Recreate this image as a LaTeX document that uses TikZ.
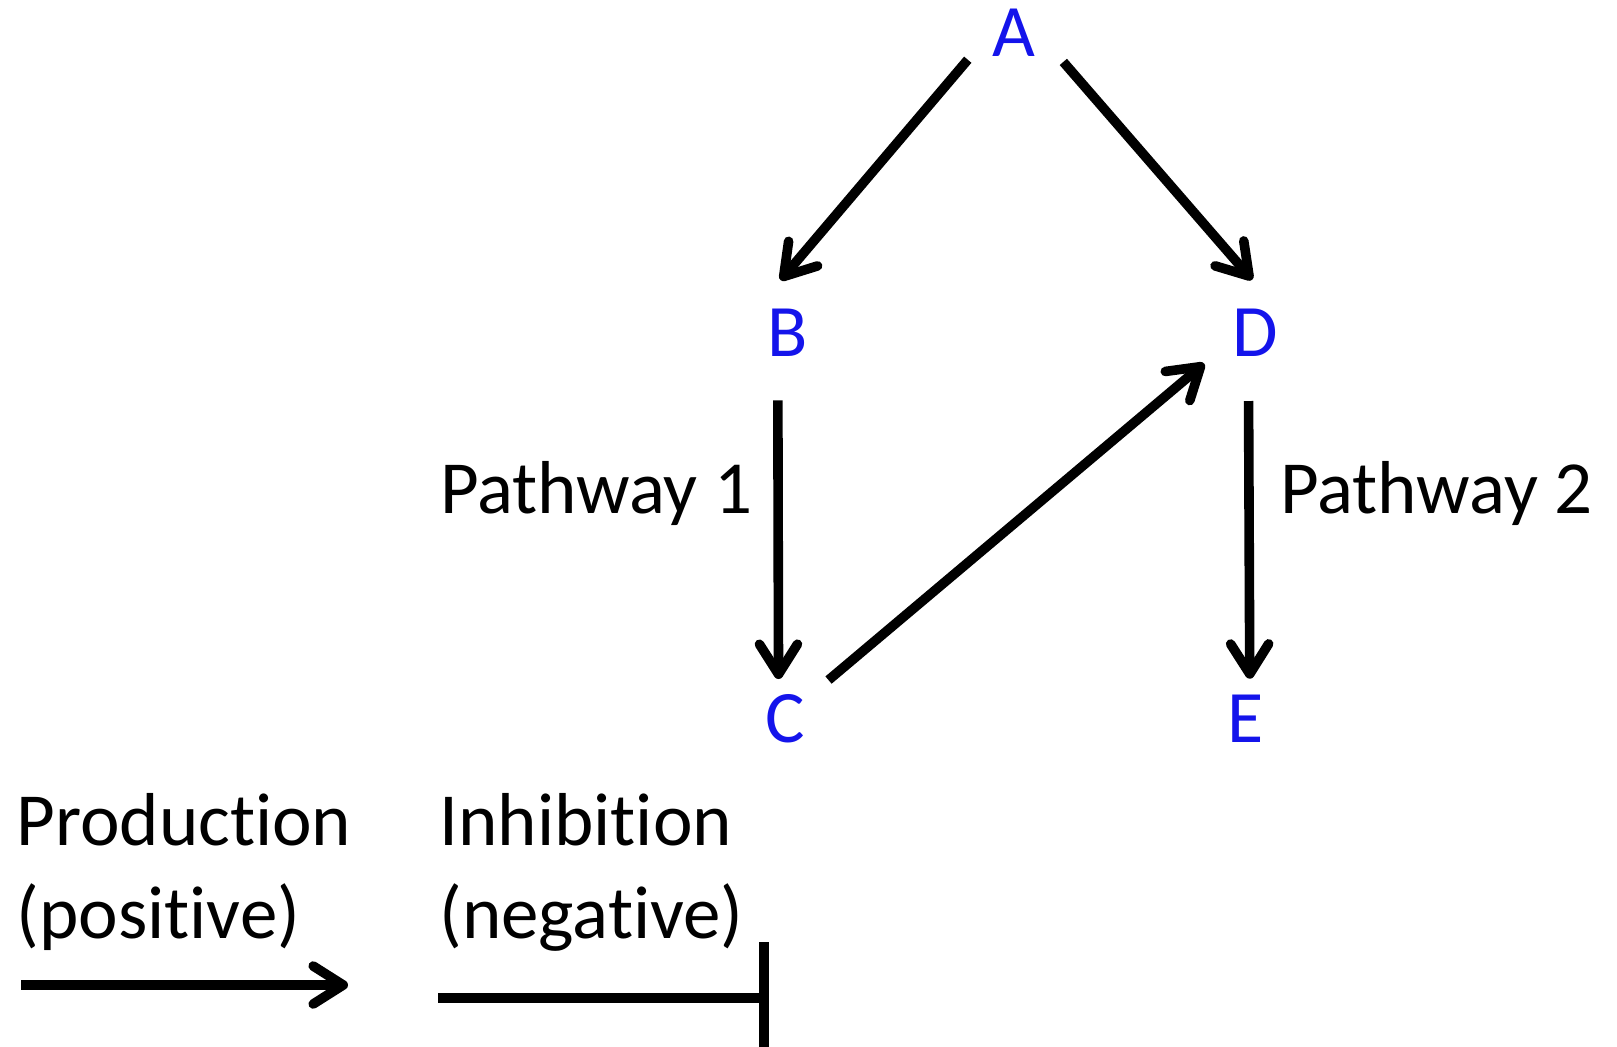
\documentclass[tikz,border=0pt]{standalone}
\usepackage{fontspec}
\setmainfont{Carlito}[Ligatures=NoCommon]
\usetikzlibrary{arrows.meta}
\definecolor{letterblue}{RGB}{20,20,235}

\begin{document}
\begin{tikzpicture}
			[x=0.5pt,y=-0.5pt,>={Straight Barb[length=15pt,width=19pt,round]},
			letter/.style={circle,minimum size=53pt,inner sep=0pt,text=letterblue,font=\fontsize{37}{44}\selectfont},
			lbl/.style={inner sep=0pt,font=\fontsize{37.5}{44}\selectfont},
			link/.style={->,line width=4.8pt},]
			\useasboundingbox (0,0) rectangle (1617,1046);
			\node (A) at (1014,33)[letter]{A};
			\node (B) at (788,333)[letter]{B};
			\node (D) at (1255,333)[letter]{D};
			\node (C) at (785,719)[letter]{C};
			\node (E) at (1246,719)[letter]{E};
			\draw[link] (A.210) -- (B.98);
			\draw[link,shorten <=2pt] (A.331) -- (D.93);
			\draw[link,shorten <=7.5pt,shorten >=-6.5pt] (B.259) -- (C.97.6);
			\draw[link,shorten <=2.5pt,shorten >=3pt] (C.42) -- (D.210);
			\draw[link,shorten <=7.5pt,shorten >=-6.5pt] (D.263.5) -- (E.86.8);
			\node (path1) at (753,513)[lbl,anchor=base east]{Pathway 1};
			\node (path2) at (1280,513)[lbl,anchor=base west]{Pathway 2};
			% legend
			\node (prod) at (16,845)[lbl,anchor=base west]{Production};
			\node (pos) at (16,938)[lbl,anchor=base west]{(positive)};
			\node (inh) at (439,845)[lbl,anchor=base west]{Inhibition};
			\node (neg) at (439,938)[lbl,anchor=base west]{(negative)};
			\coordinate (p1) at (21,985);
			\coordinate (p2) at (348,985);
			\coordinate (i1) at (438,998);
			\coordinate (i2) at (769,998);
			\draw[link] (p1) -- (p2);
			\draw[line width=4.8pt,-{Bar[width=56pt]}] (i1) -- (i2);
	\end{tikzpicture}
\end{document}
